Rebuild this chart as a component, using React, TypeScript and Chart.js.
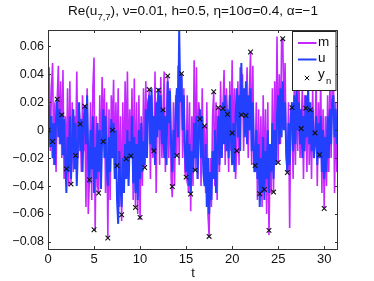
import React, { useEffect, useRef } from "react";
import { Chart, registerables } from "chart.js";

Chart.register(...registerables);

// sampling step of the trajectories (time units)
const DT = 0.125;

// filter mean m (in units of 1e-3), one row = 1 time unit
const mMilli = [
  0, 45, -15, 30, 48, -25, 20, -30,
  22, 46, -10, 35, -20, 43, -35, 10,
  -28, 30, -40, 35, -38, 20, -30, 10,
  -18, 42, -20, 15, 4, -30, 25, -15,
  17, -55, 30, -60, -35, 20, -50, 30,
  52, -72, 10, -40, -45, 25, -30, 38,
  -8, 30, -45, 20, -77, 15, -50, 25,
  0, 36, -30, 20, -25, 30, -55, 10,
  -65, 20, -45, 35, -20, 42, -35, 15,
  -18, 30, -50, 37, -55, 20, -60, 25,
  -64, 10, -40, 30, -27, 35, -20, 15,
  29, -35, 25, -20, -15, 42, -45, 20,
  28, -25, 38, -20, 15, 42, -30, 10,
  39, -20, 30, -35, -48, 20, -40, 25,
  -18, 46, -25, 40, 40, -20, 30, -30,
  -34, 25, -45, 20, -58, 10, -40, 50,
  -29, 45, -35, 20, 8, -40, 30, -25,
  3, -45, 20, -60, -76, -20, -55, 10,
  27, -40, 20, -50, 16, -30, 35, -20,
  15, 43, -25, 30, 11, -30, 35, -15,
  50, -20, 30, -35, -15, 35, -25, 45,
  11, 40, -15, 30, 10, 45, -20, 25,
  56, -25, 46, -30, -25, 20, -50, 15,
  -46, 10, -55, 25, -42, 15, -60, 20,
  -75, -20, -45, 30, -44, 35, -20, 67,
  -23, 40, -10, 65, 65, 10, 48, -20,
  -30, 20, -70, 15, 16, -35, 30, -25,
  35, -15, 42, -20, 1, 30, -35, 25,
  16, -30, 42, -25, 15, -35, 30, -20,
  -2, 35, -40, 20, -18, 38, -45, 15,
  -56, 10, -40, 25, -30, 35, -20, 40,
  46, -45, 20, -30, 10,
];

// true signal u (in units of 1e-3)
const uMilli = [
  0, 18, -12, 10, -20, 5, -25, 8,
  22, -5, 15, -10, 12, -18, 8, -22,
  -45, -5, -30, 10, -35, -10, 15, -28,
  5, -40, -12, 20, -15, 8, -30, 5,
  18, -10, 25, -20, -38, 0, -28, 10,
  -45, -12, -35, 5, -30, 0, -42, -8,
  15, -20, 10, -25, -40, -5, -30, 8,
  -20, 5, -35, 0, -50, -67, -15, -40,
  -55, -20, -45, -10, -35, 0, -40, -8,
  -20, 10, -38, -5, -45, -10, -50, 0,
  -35, 5, -30, -8, -25, 15, -20, 20,
  25, -10, 30, -15, 10, -25, 20, -5,
  30, 0, 25, -10, 15, -20, 10, -25,
  35, 5, 28, -10, -30, 0, -20, 15,
  30, -5, 72, 20, 40, 0, 25, -15,
  -30, 0, -40, -10, -45, -15, -30, 5,
  -20, 10, -35, 0, 15, -20, 10, -30,
  -40, -10, -55, -20, -60, -30, -50, -15,
  -35, 0, -45, -10, 10, -25, 15, -20,
  20, -10, 25, -15, 15, -20, 25, -5,
  -25, 5, -30, 10, 30, -5, 25, -15,
  48, 10, 30, -5, 35, -10, 25, 0,
  30, -15, 20, -20, -30, 0, -35, -10,
  -55, -20, -45, -5, -50, -15, -35, 0,
  -45, -10, -30, 5, -35, 0, -25, 10,
  25, -10, 30, -5, 35, 0, 20, -15,
  -30, 5, -25, 10, 20, -15, 25, -10,
  30, 0, 20, -10, 15, -20, 10, -15,
  25, -5, 30, -10, 20, -15, 15, -20,
  -10, 10, -25, 5, -20, 10, -30, 0,
  -35, -5, -30, 10, -20, 15, -10, 20,
  25, -5, 15, -10, 5,
];

// observation times and observations y_n (in units of 1e-3)
const obsTimes = [
  0, 0.5, 1, 1.5, 2, 2.5, 3, 3.5, 4, 4.5,
  5, 5.5, 6, 6.5, 7, 7.5, 8, 8.5, 9, 9.5,
  10, 10.5, 11, 11.5, 12, 12.5, 13, 13.5, 14, 14.5,
  15, 15.5, 16, 16.5, 17, 17.5, 18, 18.5, 19, 19.5,
  20, 20.5, 21, 21.5, 22, 22.5, 23, 23.5, 24, 24.5,
  25, 25.5, 26, 26.5, 27.5, 28, 28.5, 29, 29.5, 30,
];
const obsMilli = [
  0, -8.1, 22.1, 10.9, -27.7, -38.6, -18.1, 4.3, 17.1, -35.5,
  -71.2, -45, -8.1, -77.1, 0, -25.5, -60.5, -20.5, -18.4, -55.3,
  -62.4, -26.7, 29, -14.8, 28.6, 14.5, 38.8, -40.3, -18.1, 40.4,
  -33.6, -45.7, -28.6, 8, 3, -76, 27.4, 16.1, 15.4, 11.4,
  -2, -14.8, 10.9, 10.4, 55.9, -25.3, -45.5, -42.4, -71.7, -44.3,
  -23.1, 65.4, -30.3, 16.1, 1.1, 15.7, 14.5, -2, -17.6, -56,
];

const xTicks = [0, 5, 10, 15, 20, 25, 30];
const yTicks = [-0.08, -0.06, -0.04, -0.02, 0, 0.02, 0.04, 0.06];
const X_MIN = 0;
const X_MAX = 31.5;
const Y_MIN = -0.085;
const Y_MAX = 0.0716;

const legendLabels = ["m", "u", "y"];
const M_COLOR = "rgb(196,40,255)";
const U_COLOR = "rgb(36,64,255)";
const FONT = "'Liberation Sans', Arial, Helvetica, sans-serif";

const fmtY = (v: number) => {
  if (Math.abs(v) < 1e-9) return "0";
  return (v < 0 ? "\u2212" : "") + Math.abs(v).toFixed(2);
};

const decorPlugin = {
  id: "decor",
  afterDraw(chart: any) {
    const ctx = chart.ctx as CanvasRenderingContext2D;
    const { left, right, top, bottom } = chart.chartArea;
    const xs = chart.scales.x;
    const ys = chart.scales.y;
    ctx.save();
    // frame
    ctx.strokeStyle = "#333";
    ctx.lineWidth = 1;
    ctx.strokeRect(Math.round(left) + 0.5, Math.round(top) + 0.5, Math.round(right - left) - 1, Math.round(bottom - top));
    // inward ticks
    ctx.beginPath();
    const tl = 3;
    xTicks.forEach((t) => {
      const px = Math.round(xs.getPixelForValue(t)) + 0.5;
      ctx.moveTo(px, bottom);
      ctx.lineTo(px, bottom - tl);
      ctx.moveTo(px, top);
      ctx.lineTo(px, top + tl);
    });
    yTicks.forEach((v) => {
      const py = Math.round(ys.getPixelForValue(v)) + 0.5;
      ctx.moveTo(left, py);
      ctx.lineTo(left + tl, py);
      ctx.moveTo(right, py);
      ctx.lineTo(right - tl, py);
    });
    ctx.stroke();

    // title
    ctx.fillStyle = "#111";
    ctx.textBaseline = "alphabetic";
    const big = `13.6px ${FONT}`;
    const small = `9.5px ${FONT}`;
    const p1 = "Re(u";
    const sub = "7,7";
    const p2 = "), \u03bd=0.01, h=0.5, \u03b7=10\u03c3=0.4, \u03b1=\u22121";
    ctx.font = big;
    const w1 = ctx.measureText(p1).width;
    const w3 = ctx.measureText(p2).width;
    ctx.font = small;
    const w2 = ctx.measureText(sub).width;
    const total = w1 + w2 + w3;
    const x0 = (left + right) / 2 - total / 2;
    const base = 14.5;
    ctx.textAlign = "left";
    ctx.font = big;
    ctx.fillText(p1, x0, base);
    ctx.font = small;
    ctx.fillText(sub, x0 + w1, base + 5.5);
    ctx.font = big;
    ctx.fillText(p2, x0 + w1 + w2, base);

    // x axis title
    ctx.font = `13px ${FONT}`;
    ctx.textAlign = "center";
    ctx.fillText("t", (left + right) / 2, 277);

    // legend
    const lx = 292.5, ly = 31.5, lw = 43.5, lh = 59;
    ctx.fillStyle = "#fff";
    ctx.fillRect(lx, ly, lw, lh);
    ctx.strokeStyle = "#222";
    ctx.strokeRect(lx, ly, lw, lh);
    const rows = [43, 59.5, 77];
    ctx.lineWidth = 2;
    ctx.strokeStyle = M_COLOR;
    ctx.beginPath();
    ctx.moveTo(298, rows[0]);
    ctx.lineTo(316.5, rows[0]);
    ctx.stroke();
    ctx.strokeStyle = U_COLOR;
    ctx.beginPath();
    ctx.moveTo(298, rows[1]);
    ctx.lineTo(316.5, rows[1]);
    ctx.stroke();
    // x marker
    ctx.strokeStyle = "#111";
    ctx.lineWidth = 1;
    ctx.beginPath();
    const mx = 307, my = rows[2] + 1, r = 2.2;
    ctx.moveTo(mx - r, my - r);
    ctx.lineTo(mx + r, my + r);
    ctx.moveTo(mx - r, my + r);
    ctx.lineTo(mx + r, my - r);
    ctx.stroke();
    ctx.fillStyle = "#111";
    ctx.textAlign = "left";
    ctx.textBaseline = "middle";
    ctx.font = `13.5px ${FONT}`;
    ctx.fillText(legendLabels[0], 318, rows[0] - 1);
    ctx.fillText(legendLabels[1], 318, rows[1] - 1);
    ctx.fillText(legendLabels[2], 318, rows[2] - 3);
    ctx.font = `9.5px ${FONT}`;
    ctx.fillText("n", 326, rows[2] + 4);
    ctx.restore();
  },
};

export default function App() {
  const ref = useRef<HTMLCanvasElement | null>(null);
  useEffect(() => {
    if (!ref.current) return;
    const mData = mMilli.map((v, i) => ({ x: i * DT, y: v / 1000 }));
    const uData = uMilli.map((v, i) => ({ x: i * DT, y: v / 1000 }));
    const yData = obsTimes.map((t, i) => ({ x: t, y: obsMilli[i] / 1000 }));
    const chart = new Chart(ref.current, {
      type: "line",
      data: {
        datasets: [
          {
            label: "y_n",
            data: yData,
            showLine: false,
            pointStyle: "crossRot",
            pointRadius: 3.3,
            pointBorderColor: "#111",
            pointBorderWidth: 1.1,
            borderColor: "#111",
            order: 0,
          },
          {
            label: "u",
            data: uData,
            borderColor: U_COLOR,
            borderWidth: 2,
            pointRadius: 0,
            tension: 0,
            order: 1,
          },
          {
            label: "m",
            data: mData,
            borderColor: M_COLOR,
            borderWidth: 1.6,
            pointRadius: 0,
            tension: 0,
            order: 2,
          },
        ],
      },
      options: {
        animation: false,
        responsive: false,
        layout: { padding: { top: 30, right: 36, left: 0, bottom: 0 } },
        plugins: {
          legend: { display: false },
          title: { display: false },
          tooltip: { enabled: false },
        },
        scales: {
          x: {
            type: "linear",
            min: X_MIN,
            max: X_MAX,
            grid: { display: false, drawTicks: false },
            border: { display: false },
            afterBuildTicks: (s: any) => {
              s.ticks = xTicks.map((v) => ({ value: v }));
            },
            afterFit: (s: any) => {
              s.height = 32;
            },
            ticks: {
              color: "#111",
              font: { family: FONT, size: 13 },
              padding: 3,
              maxRotation: 0,
              callback: (v: any) => String(v),
            },
          },
          y: {
            type: "linear",
            min: Y_MIN,
            max: Y_MAX,
            grid: { display: false, drawTicks: false },
            border: { display: false },
            afterBuildTicks: (s: any) => {
              s.ticks = yTicks.map((v) => ({ value: v }));
            },
            afterFit: (s: any) => {
              s.width = 48;
            },
            ticks: {
              color: "#111",
              font: { family: FONT, size: 12.5 },
              padding: 4,
              callback: (v: any) => fmtY(Number(v)),
            },
          },
        },
      },
      plugins: [decorPlugin],
    });
    return () => chart.destroy();
  }, []);
  return (
    <div style={{ position: "fixed", left: 0, top: 0, width: 374, height: 281, background: "#fff" }}>
      <canvas ref={ref} width={374} height={281} style={{ width: 374, height: 281, display: "block" }} />
    </div>
  );
}
